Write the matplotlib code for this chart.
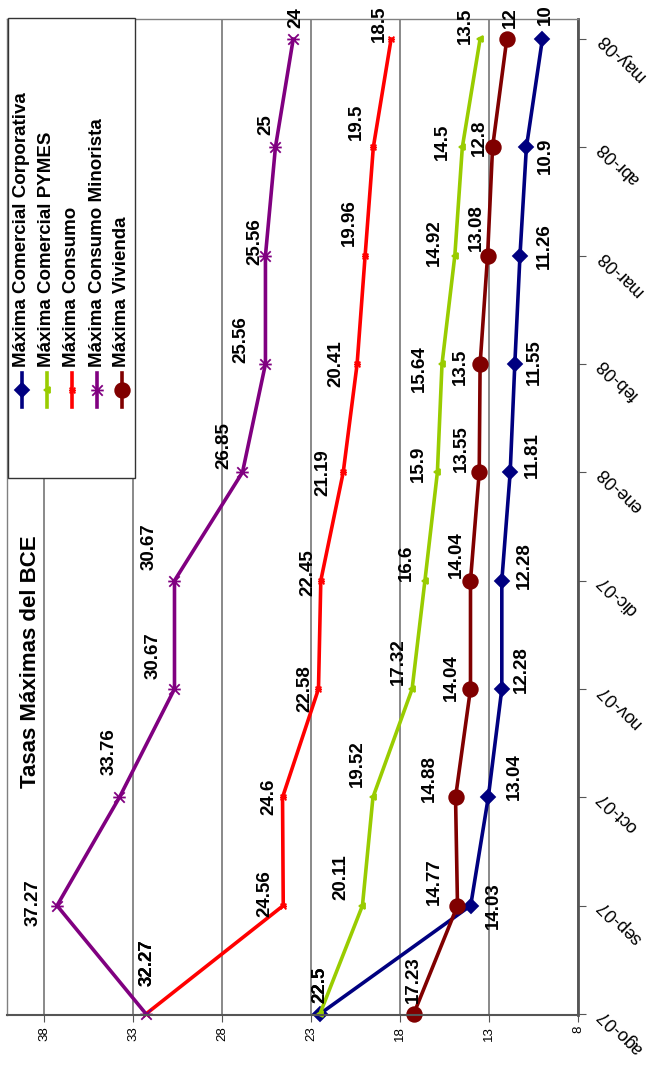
import matplotlib.pyplot as plt
from matplotlib.path import Path
from matplotlib.patches import Rectangle
from matplotlib.lines import Line2D
from matplotlib.transforms import ScaledTranslation

plt.rcParams['font.family'] = ['Liberation Sans', 'DejaVu Sans']

# tasas maximas por mes
meses = ['ago-07', 'sep-07', 'oct-07', 'nov-07', 'dic-07',
         'ene-08', 'feb-08', 'mar-08', 'abr-08', 'may-08']
corporativa = [22.5, 14.03, 13.04, 12.28, 12.28, 11.81, 11.55, 11.26, 10.9, 10]
pymes = [22.5, 20.11, 19.52, 17.32, 16.6, 15.9, 15.64, 14.92, 14.5, 13.5]
consumo = [32.27, 24.56, 24.6, 22.58, 22.45, 21.19, 20.41, 19.96, 19.5, 18.5]
minorista = [32.27, 37.27, 33.76, 30.67, 30.67, 26.85, 25.56, 25.56, 25, 24]
vivienda = [17.23, 14.77, 14.88, 14.04, 14.04, 13.55, 13.5, 13.08, 12.8, 12]
nombres = ['Máxima Comercial Corporativa', 'Máxima Comercial PYMES',
           'Máxima Consumo', 'Máxima Consumo Minorista', 'Máxima Vivienda']

# desplazamiento de cada etiqueta (pixeles)
off_corp = [(0, 29), (23, 0), (26, 21), (20, 19), (23, 15), (22, 17), (20, 2), (24, 10), (19, -8), (3, 24)]
off_pymes = [(0, 29), (-22, 28), (-16, 34), (-14, 27), (-19, 18), (-19, 9), (-23, -5), (-20, 13), (-20, 6), (-15, 13)]
off_consumo = [(1, 51), (-18, 12), (-14, 0), (-14, 0), (-13, 8), (-20, 0), (-21, 0), (-16, 33), (-17, 26), (-12, 15)]
off_minorista = [(1, 51), (-24, 3), (-10, 46), (-21, 33), (-25, 34), (-19, 27), (-25, 24), (-11, 14), (-10, 23), (3, 21)]
off_vivienda = [(0, 34), (-23, 24), (-26, 19), (-19, 11), (-14, 26), (-18, 24), (-20, -3), (-11, 28), (-13, 10), (4, 21)]

# asterisco (x con barra)
asterisco = Path([(-1, -1), (1, 1), (-1, 1), (1, -1), (-1.2, 0), (1.2, 0)],
                 [Path.MOVETO, Path.LINETO, Path.MOVETO, Path.LINETO, Path.MOVETO, Path.LINETO])

series = [
    (corporativa, '#000080', 'D', 7, off_corp),
    (pymes, '#99CC00', '<', 5, off_pymes),
    (consumo, '#FF0000', asterisco, 5, off_consumo),
    (minorista, '#800080', asterisco, 9, off_minorista),
    (vivienda, '#800000', 'o', 10.5, off_vivienda),
]

W, H = 650, 1066
fig = plt.figure(figsize=(W / 100, H / 100), dpi=100)
ax = fig.add_axes([7 / W, (H - 1015) / H, (578 - 7) / W, (1015 - 19) / H])

pos = list(range(len(meses)))
for vals, col, mk, ms, offs in series:
    ax.plot(vals, pos, color=col, lw=2.6, marker=mk, ms=ms, mec=col, mfc=col,
            mew=1.3, clip_on=False)
    for v, i, (dx, dy) in zip(vals, pos, offs):
        ax.annotate(f'{v:g}', (v, i), xytext=(dx, dy), textcoords='offset pixels',
                    rotation=90, ha='center', va='center', fontsize=13.5,
                    fontweight='bold', annotation_clip=False)

ax.set_xlim(40.08, 8)
ax.set_ylim(-0.01, 9.185)
ax.set_xticks(range(8, 39, 5))
ax.grid(axis='x', color='#808080', lw=1.3)
ax.set_axisbelow(True)

ax.yaxis.tick_right()
ax.set_yticks(pos)
ax.set_yticklabels(meses, rotation=135, rotation_mode='anchor', ha='right', va='center')
ax.tick_params(axis='x', direction='out', length=5, color='#555555', labelsize=9.5,
               labelrotation=90, pad=3)
ax.tick_params(axis='y', direction='out', length=6, color='#555555', labelsize=13,
               pad=10)
for lab in ax.get_yticklabels():
    lab.set_transform(lab.get_transform() + ScaledTranslation(0, 3 / 100, fig.dpi_scale_trans))

for s in ['left', 'top']:
    ax.spines[s].set_color('#808080')
    ax.spines[s].set_linewidth(1)
ax.spines['right'].set_color('#555555')
ax.spines['right'].set_linewidth(2)
ax.spines['bottom'].set_color('#555555')
ax.spines['bottom'].set_linewidth(1.5)

# titulo
fig.text(31 / W, 1 - 662 / H, 'Tasas Máximas del BCE', rotation=90, ha='center',
         va='center', fontsize=16, fontweight='bold')

# leyenda
fig.add_artist(Rectangle((8 / W, 1 - 478 / H), 127 / W, 460 / H, transform=fig.transFigure,
                         facecolor='white', edgecolor='#333333', lw=1))
for k, (nombre, (vals, col, mk, ms, offs)) in enumerate(zip(nombres, series)):
    xc = (22 + k * 25) / W
    fig.add_artist(Line2D([xc, xc], [1 - 373 / H, 1 - 407 / H], transform=fig.transFigure,
                          color=col, lw=2.6))
    fig.add_artist(Line2D([xc], [1 - 390 / H], transform=fig.transFigure, color=col,
                          marker=mk, ms=ms, mec=col, mfc=col, mew=1.3))
    fig.text(xc, 1 - 367 / H, nombre, rotation=90, ha='center', va='bottom',
             fontsize=13.5, fontweight='bold')

fig.savefig('out.png', dpi=100)
